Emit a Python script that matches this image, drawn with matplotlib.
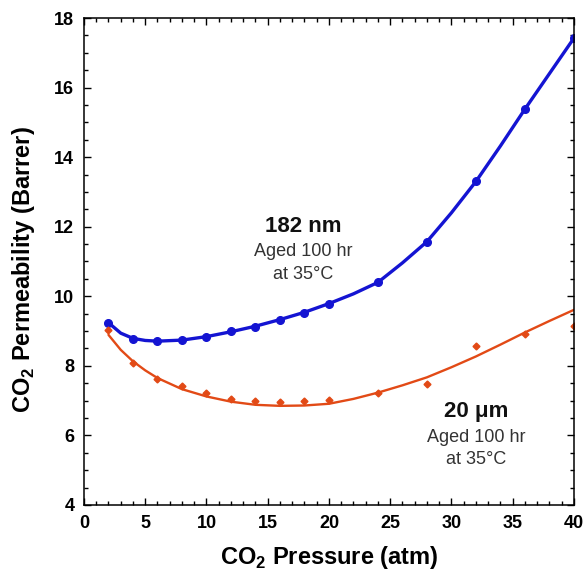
import matplotlib.pyplot as plt
from matplotlib.ticker import MultipleLocator

plt.rcParams['font.family'] = ['Liberation Sans', 'DejaVu Sans']
plt.rcParams['mathtext.fontset'] = 'custom'
plt.rcParams['mathtext.rm'] = 'Liberation Sans'
plt.rcParams['mathtext.bf'] = 'Liberation Sans:bold'

# measured points
pressure = [2, 4, 6, 8, 10, 12, 14, 16, 18, 20, 24, 28, 32, 36, 40]
perm_182nm = [9.24, 8.77, 8.71, 8.75, 8.83, 8.99, 9.13, 9.33, 9.53, 9.79,
              10.40, 11.57, 13.30, 15.38, 17.42]
perm_20um = [9.02, 8.08, 7.63, 7.43, 7.21, 7.06, 7.00, 6.97, 7.00, 7.02,
             7.21, 7.47, 8.57, 8.92, 9.15]

# fitted curves
fit_x_182nm = [2, 3, 4, 5, 6, 8, 10, 12, 14, 16, 18, 20, 22, 24, 26, 28,
               30, 32, 34, 36, 38, 40]
fit_y_182nm = [9.24, 8.94, 8.79, 8.73, 8.71, 8.74, 8.84, 8.98, 9.14, 9.33,
               9.54, 9.79, 10.07, 10.40, 10.96, 11.57, 12.40, 13.30, 14.32,
               15.38, 16.40, 17.42]
fit_x_20um = [2, 3, 4, 5, 6, 8, 10, 12, 14, 16, 18, 20, 22, 24, 26, 28,
              30, 32, 34, 36, 38, 40]
fit_y_20um = [8.89, 8.46, 8.13, 7.87, 7.65, 7.33, 7.12, 6.97, 6.88, 6.85,
              6.86, 6.91, 7.05, 7.23, 7.44, 7.67, 7.96, 8.27, 8.61, 8.96,
              9.29, 9.61]

blue = '#1414d2'
orange = '#e24a16'

fig = plt.figure(figsize=(5.85, 5.77), dpi=100)
ax = fig.add_axes([0.1436, 0.1248, 0.8374, 0.8440])

ax.plot(fit_x_182nm, fit_y_182nm, color=blue, lw=2.4, solid_capstyle='round')
ax.plot(pressure, perm_182nm, 'o', color=blue, ms=5.5)
ax.plot(fit_x_20um, fit_y_20um, color=orange, lw=1.7, solid_capstyle='round')
ax.plot(pressure, perm_20um, 'D', color=orange, ms=3.5)

ax.set_xlim(0, 40)
ax.set_ylim(4, 18)
ax.xaxis.set_major_locator(MultipleLocator(5))
ax.xaxis.set_minor_locator(MultipleLocator(1))
ax.yaxis.set_major_locator(MultipleLocator(2))
ax.yaxis.set_minor_locator(MultipleLocator(0.5))
ax.tick_params(which='both', direction='in', top=True, right=True, width=1)
ax.tick_params(which='major', length=5, labelsize=13, pad=7)
ax.tick_params(which='minor', length=3)
for lab in ax.get_xticklabels() + ax.get_yticklabels():
    lab.set_fontweight('bold')
for sp in ax.spines.values():
    sp.set_linewidth(1.1)

ax.set_xlabel(r'CO$_\mathbf{2}$ Pressure (atm)', fontsize=17,
              fontweight='bold', labelpad=9)
ax.set_ylabel(r'CO$_\mathbf{2}$ Permeability (Barrer)', fontsize=17,
              fontweight='bold')
ax.yaxis.set_label_coords(-0.096, 0.483)

ax.text(17.9, 12.0, '182 nm', ha='center', va='center', fontsize=16,
        fontweight='bold', color='#111111')
ax.text(17.9, 11.28, 'Aged 100 hr', ha='center', va='center',
        fontsize=13, color='#333333')
ax.text(17.9, 10.64, 'at 35°C', ha='center', va='center',
        fontsize=13, color='#333333')
ax.text(32.0, 6.68, '20 μm', ha='center', va='center', fontsize=16,
        fontweight='bold', color='#111111')
ax.text(32.0, 5.93, 'Aged 100 hr', ha='center', va='center',
        fontsize=13, color='#333333')
ax.text(32.0, 5.30, 'at 35°C', ha='center', va='center',
        fontsize=13, color='#333333')

fig.savefig('out.png', dpi=100)
